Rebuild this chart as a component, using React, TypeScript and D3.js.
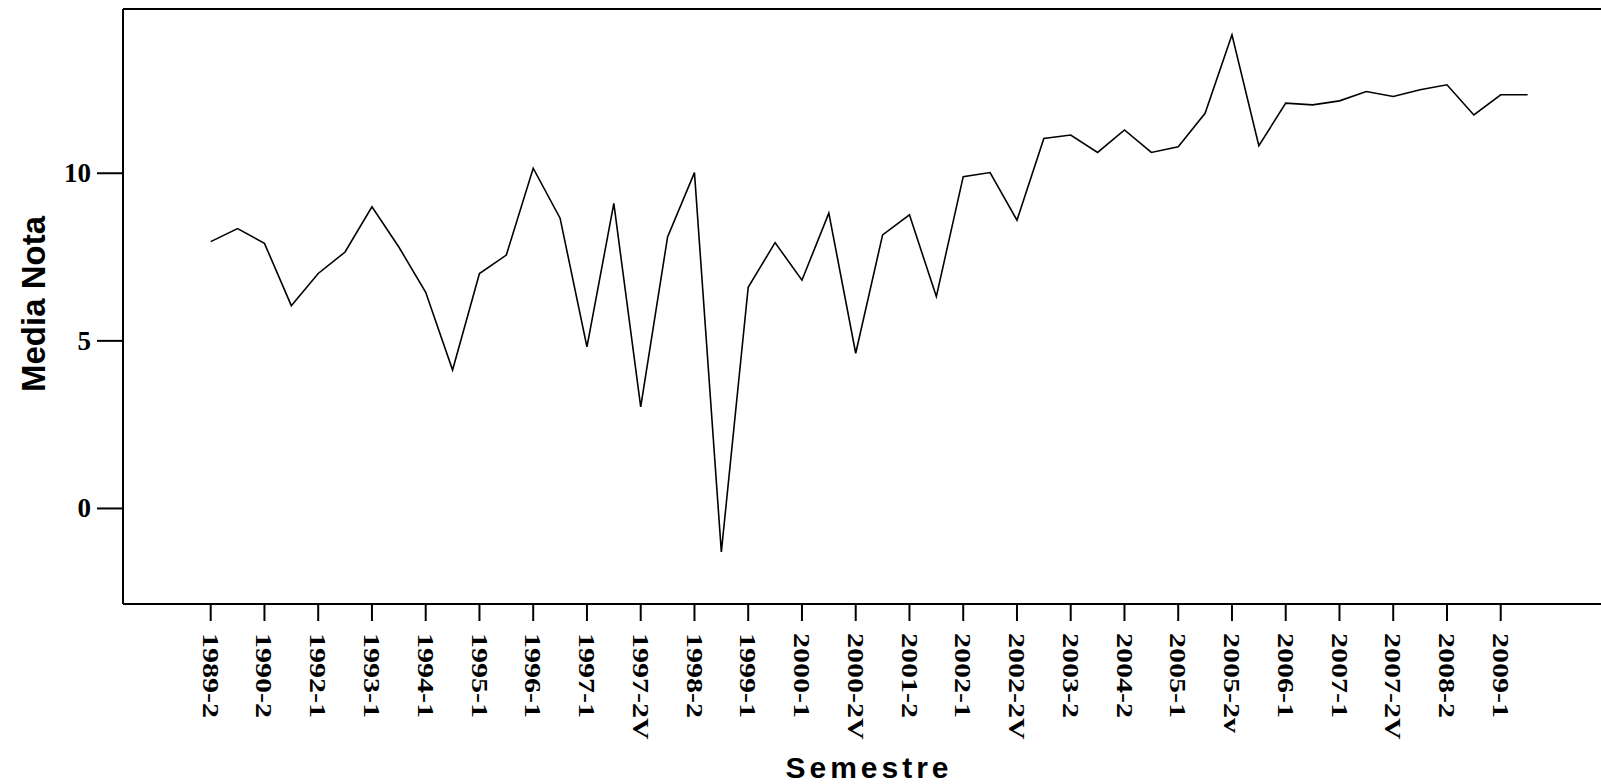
import { useMemo } from "react";
import { scaleLinear, scalePoint, line } from "d3";

// media nota por semestre, 50 semestres (1989-2 .. 2009-1 + 1)
const VALUES = [
  7.96, 8.35, 7.91, 6.05, 7.01, 7.65, 9.0, 7.8, 6.45, 4.13,
  7.01, 7.56, 10.15, 8.66, 4.82, 9.1, 3.03, 8.1, 10.02, -1.3,
  6.6, 7.93, 6.81, 8.81, 4.63, 8.16, 8.76, 6.32, 9.9, 10.02,
  8.6, 11.04, 11.14, 10.62, 11.29, 10.62, 10.79, 11.79, 14.13, 10.82,
  12.09, 12.04, 12.16, 12.44, 12.29, 12.49, 12.64, 11.74, 12.34, 12.34,
];

// only every second semester gets a label
const TICK_LABELS = [
  "1989-2", "1990-2", "1992-1", "1993-1", "1994-1", "1995-1", "1996-1",
  "1997-1", "1997-2V", "1998-2", "1999-1", "2000-1", "2000-2V", "2001-2",
  "2002-1", "2002-2V", "2003-2", "2004-2", "2005-1", "2005-2v", "2006-1",
  "2007-1", "2007-2V", "2008-2", "2009-1",
];

const Y_TICKS = [0, 5, 10];

const WIDTH = 1601;
const HEIGHT = 784;
const PLOT = { left: 123, top: 9, bottom: 604, right: 1601 };
const TICK_FONT = "'Liberation Serif', 'DejaVu Serif', 'Times New Roman', serif";
const TITLE_FONT = "'Liberation Sans', Arial, 'DejaVu Sans', sans-serif";

const App = () => {
  const idx = VALUES.map((_, i) => i);

  const xScale = useMemo(
    () => scalePoint<number>().domain(idx).range([210.7, 1527.6]),
    []
  );
  const yScale = useMemo(
    () => scaleLinear().domain([-2.85, 14.9]).range([PLOT.bottom, PLOT.top]),
    []
  );

  const path = line<number>()
    .x((_, i) => xScale(i) ?? 0)
    .y((d) => yScale(d))(VALUES);

  return (
    <svg
      width={WIDTH}
      height={HEIGHT}
      style={{ position: "absolute", left: 0, top: 0, background: "#fff" }}
    >
      {/* frame: left, top, bottom */}
      <g stroke="#000" strokeWidth={2} fill="none">
        <line x1={PLOT.left} y1={PLOT.top} x2={PLOT.right} y2={PLOT.top} />
        <line x1={PLOT.left} y1={PLOT.top} x2={PLOT.left} y2={PLOT.bottom} />
        <line x1={PLOT.left} y1={PLOT.bottom} x2={PLOT.right} y2={PLOT.bottom} />
      </g>

      {/* y axis */}
      {Y_TICKS.map((t) => (
        <g key={t}>
          <line x1={97} x2={PLOT.left} y1={yScale(t)} y2={yScale(t)} stroke="#000" strokeWidth={2} />
          <text
            x={91}
            y={yScale(t)}
            textAnchor="end"
            dominantBaseline="central"
            fontFamily={TICK_FONT}
            fontWeight="bold"
            fontSize={27}
          >
            {t}
          </text>
        </g>
      ))}

      {/* x axis */}
      {TICK_LABELS.map((lab, k) => {
        const x = xScale(k * 2) ?? 0;
        return (
          <g key={lab}>
            <line x1={x} x2={x} y1={PLOT.bottom} y2={PLOT.bottom + 17} stroke="#000" strokeWidth={2} />
            <text
              transform={`translate(${x},${633}) rotate(90) scale(1.25,1)`}
              dominantBaseline="central"
              fontFamily={TICK_FONT}
              fontWeight="bold"
              fontSize={24}
            >
              {lab}
            </text>
          </g>
        );
      })}

      <path d={path ?? ""} fill="none" stroke="#000" strokeWidth={1.6} />

      <text
        transform="translate(33,304) rotate(-90)"
        textAnchor="middle"
        dominantBaseline="central"
        fontFamily={TITLE_FONT}
        fontWeight="bold"
        fontSize={33}
      >
        Media Nota
      </text>
      <text
        x={869}
        y={778}
        textAnchor="middle"
        fontFamily={TITLE_FONT}
        fontWeight="bold"
        fontSize={30}
        letterSpacing={4}
      >
        Semestre
      </text>
    </svg>
  );
};

export default App;
